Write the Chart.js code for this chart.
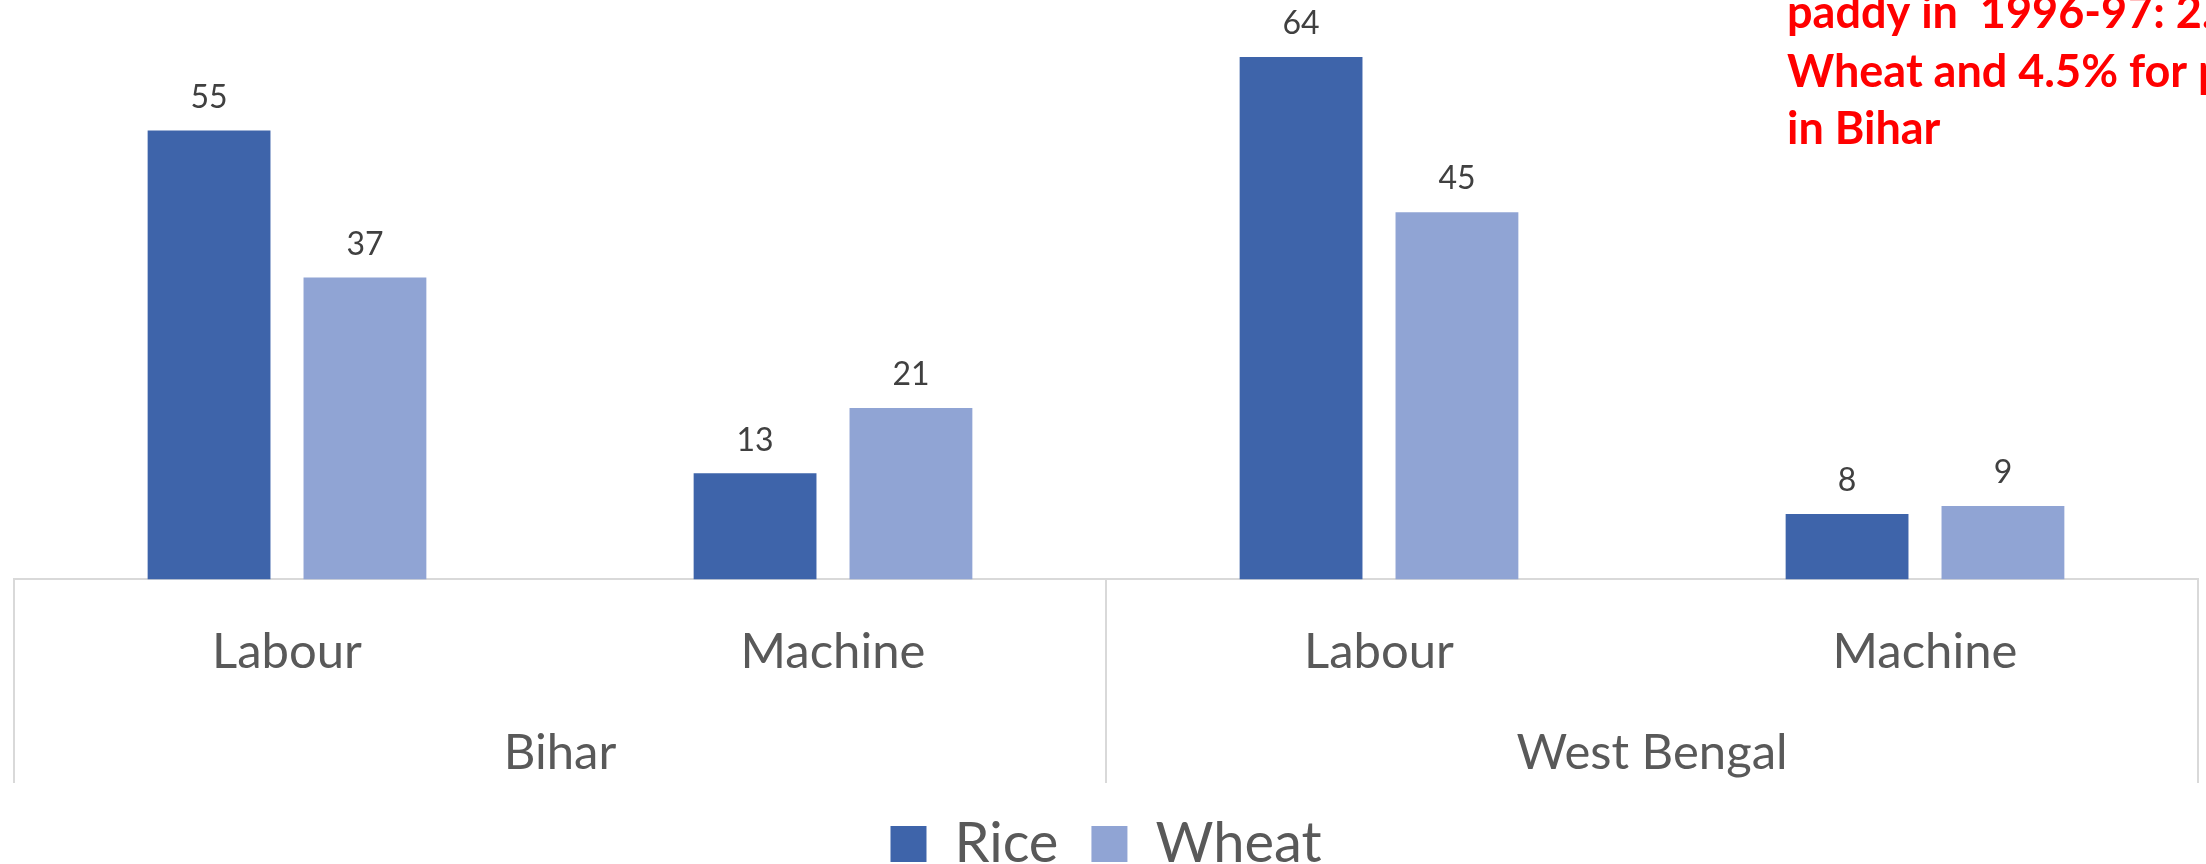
<!DOCTYPE html>
<html lang="en">
<head>
  <meta charset="UTF-8" />
  <title>Harvesting: Labour vs Machine</title>
  <script src="https://cdn.jsdelivr.net/npm/chart.js"></script>
  <style>
    html, body {
      margin: 0;
      padding: 0;
      background: #fff;
      overflow: hidden;
    }
    #wrap {
      position: relative;
      width: 2206px;
      height: 882px;
    }
  </style>
</head>
<body>
  <div id="wrap"><canvas id="harvestChart"></canvas></div>

<script>
  // values per bar, in order Bihar/Labour, Bihar/Machine, WB/Labour, WB/Machine
  const states = ['Bihar', 'West Bengal'];
  const methods = ['Labour', 'Machine', 'Labour', 'Machine'];
  const riceValues = [55, 13, 64, 8];
  const wheatValues = [37, 21, 45, 9];
  const noteLines = ['paddy in  1996-97: 2.4%', 'Wheat and 4.5% for paddy', 'in Bihar'];

  const FONT = 'Lato, "Noto Sans", sans-serif';
  const gridGrey = '#d9d9d9';

  // value labels above each bar
  const barValues = {
    id: 'barValues',
    afterDatasetsDraw(chart) {
      const ctx = chart.ctx;
      ctx.save();
      ctx.font = '32px ' + FONT;
      ctx.fillStyle = '#404040';
      ctx.textAlign = 'center';
      ctx.textBaseline = 'middle';
      chart.data.datasets.forEach((ds, i) => {
        chart.getDatasetMeta(i).data.forEach((bar, j) => {
          ctx.fillText(ds.data[j], bar.x, bar.y - 33);
        });
      });
      ctx.restore();
    }
  };

  // outer frame lines and the divider between the two states
  const stateDividers = {
    id: 'stateDividers',
    afterDraw(chart) {
      const ctx = chart.ctx;
      const area = chart.chartArea;
      const x = chart.scales.x;
      const bottom = chart.scales.x2.bottom;
      const mid = (x.getPixelForValue(1) + x.getPixelForValue(2)) / 2;
      ctx.save();
      ctx.strokeStyle = gridGrey;
      ctx.lineWidth = 2;
      [area.left, mid, area.right].forEach(px => {
        ctx.beginPath();
        ctx.moveTo(px, area.bottom);
        ctx.lineTo(px, bottom);
        ctx.stroke();
      });
      ctx.restore();
    }
  };

  // red note in the upper right corner
  const cornerNote = {
    id: 'cornerNote',
    afterDraw(chart) {
      const ctx = chart.ctx;
      ctx.save();
      ctx.font = 'bold 45px ' + FONT;
      ctx.fillStyle = '#ff0000';
      ctx.textAlign = 'left';
      ctx.textBaseline = 'alphabetic';
      const baselines = [28, 87, 144];
      noteLines.forEach((line, i) => ctx.fillText(line, 1787, baselines[i]));
      ctx.restore();
    }
  };

  new Chart(document.getElementById('harvestChart'), {
    type: 'bar',
    data: {
      labels: methods,
      datasets: [
        {
          label: 'Rice',
          data: riceValues,
          backgroundColor: '#3e64aa',
          categoryPercentage: 0.571,
          barPercentage: 0.788
        },
        {
          label: 'Wheat',
          data: wheatValues,
          backgroundColor: '#90a4d4',
          categoryPercentage: 0.571,
          barPercentage: 0.788
        }
      ]
    },
    options: {
      responsive: true,
      maintainAspectRatio: false,
      animation: false,
      layout: {
        padding: { left: 14, right: 8, top: 0, bottom: 0 }
      },
      plugins: {
        tooltip: { enabled: false },
        legend: {
          position: 'bottom',
          labels: {
            font: { family: FONT, size: 56 },
            color: '#595959',
            boxWidth: 36,
            boxHeight: 36,
            padding: 33
          }
        }
      },
      scales: {
        y: {
          display: false,
          min: 0,
          max: 71
        },
        x: {
          position: 'bottom',
          weight: 0,
          grid: { display: false, drawTicks: false },
          border: { display: true, color: gridGrey, width: 2 },
          ticks: {
            font: { family: FONT, size: 49 },
            color: '#595959',
            padding: 43,
            maxRotation: 0,
            autoSkip: false
          }
        },
        x2: {
          type: 'category',
          labels: states,
          position: 'bottom',
          offset: true,
          weight: 1,
          grid: { display: false, drawTicks: false },
          border: { display: false },
          ticks: {
            font: { family: FONT, size: 49 },
            color: '#595959',
            padding: 0,
            maxRotation: 0,
            autoSkip: false
          }
        }
      }
    },
    plugins: [barValues, stateDividers, cornerNote]
  });
</script>
</body>
</html>
